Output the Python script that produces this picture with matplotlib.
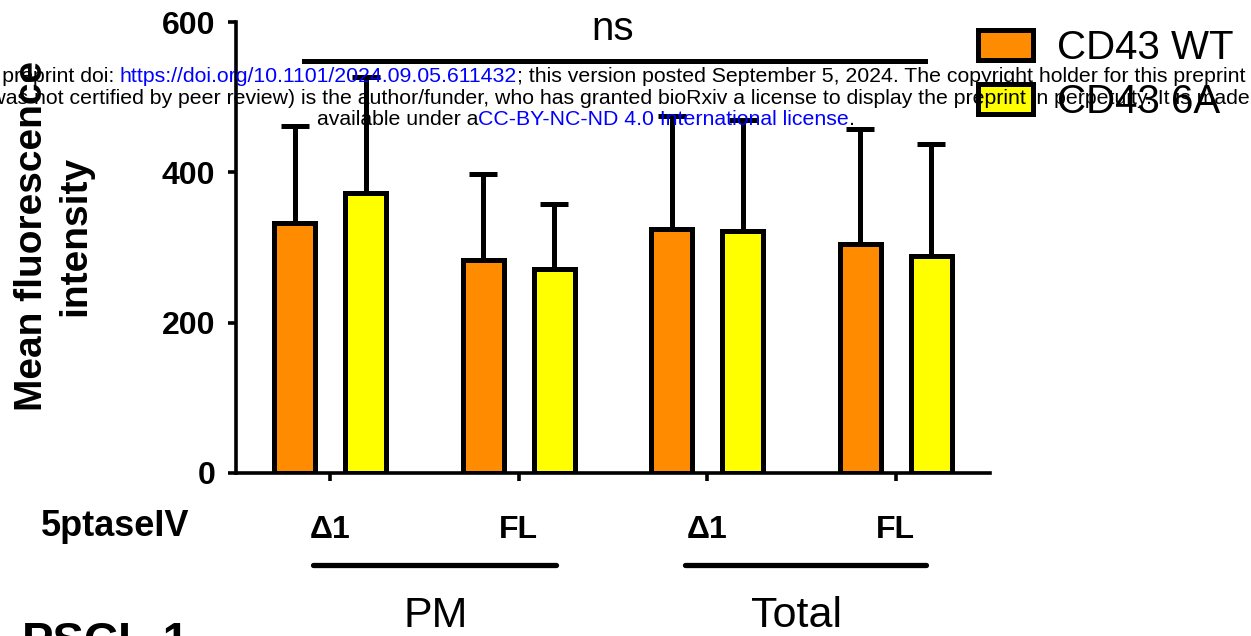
import numpy as np
import matplotlib.pyplot as plt
from matplotlib.patches import Patch

plt.rcParams['font.family'] = ['Liberation Sans', 'DejaVu Sans']

# donnees
groupes = ['Δ1', 'FL', 'Δ1', 'FL']
compartiments = ['PM', 'Total']
wt = [332, 283, 324, 305]
wt_err = [130, 115, 151, 152]
mut = [372, 272, 322, 289]
mut_err = [155, 86, 147, 149]
series = ['CD43 WT', 'CD43 6A']
couleurs = ['#FF8C00', '#FFFF00']

W, H = 1251, 636
fig = plt.figure(figsize=(W / 100, H / 100), dpi=100)
ax = fig.add_axes([236 / W, 1 - 473 / H, (990 - 236) / W, (473 - 22) / H])

x = np.arange(len(groupes))
d = 0.188
larg = 0.217
lw = 3.6
for k, (vals, errs) in enumerate([(wt, wt_err), (mut, mut_err)]):
    xs = x + (2 * k - 1) * d
    ax.errorbar(xs, vals, yerr=[[0] * len(vals), errs], fmt='none', ecolor='k',
                elinewidth=lw, capsize=10, capthick=lw, zorder=1)
    ax.bar(xs, vals, larg, color=couleurs[k], edgecolor='k', linewidth=lw, zorder=2)

ax.set_xlim(-0.5, 3.5)
ax.set_ylim(0, 600)
ax.set_yticks([0, 200, 400, 600])
ax.set_xticks(x)
ax.set_xticklabels(groupes)
for s in ['top', 'right']:
    ax.spines[s].set_visible(False)
for s in ['left', 'bottom']:
    ax.spines[s].set_linewidth(2.6)
ax.tick_params(axis='y', length=6, width=2.6, pad=9, labelsize=23)
ax.tick_params(axis='x', length=6, width=2.6, pad=24, labelsize=23)
for t in ax.get_xticklabels() + ax.get_yticklabels():
    t.set_fontweight('bold')

# barre ns
ax.plot([-0.138, 3.153], [548, 548], color='k', lw=3.6, clip_on=False)
ax.text(1.5, 565, 'ns', ha='center', va='bottom', fontsize=29)

# lignes sous les groupes
tr = ax.get_xaxis_transform()
yl = (1 - 565 / H - (1 - 473 / H)) / ((473 - 22) / H)
for (a, b), nom, xt in zip([(-0.09, 1.196), (1.884, 3.159)], compartiments, [436, 797]):
    ax.plot([a, b], [yl, yl], transform=tr, color='k', lw=3.8,
            solid_capstyle='round', clip_on=False)
    fig.text(xt / W, 1 - 616 / H, nom, ha='center', va='center', fontsize=31)

fig.text(115 / W, 1 - 527 / H, '5ptaseIV', ha='center', va='center',
         fontsize=26, fontweight='bold')
fig.text(54 / W, 1 - 236 / H, 'Mean fluorescence\nintensity', rotation=90,
         ha='center', va='center', fontsize=28, fontweight='bold',
         multialignment='center', linespacing=1.25)
fig.text(22 / W, 1 - 655 / H, 'PSCL-1', ha='left', va='baseline',
         fontsize=34, fontweight='bold')

poignees = [Patch(facecolor=c, edgecolor='k', linewidth=lw) for c in couleurs]
fig.legend(poignees, series, loc='upper left', bbox_to_anchor=(978 / W, 1 - 29 / H),
           frameon=False, fontsize=29, handlelength=1.36, handleheight=0.78,
           handletextpad=0.6, labelspacing=0.4, borderpad=0, borderaxespad=0)

# filigrane bioRxiv
rend = fig.canvas.get_renderer()


def largeur(s, fs):
    t = fig.text(0, 0, s + '|', fontsize=fs)
    t2 = fig.text(0, 0, '|', fontsize=fs)
    w = t.get_window_extent(rend).width - t2.get_window_extent(rend).width
    t.remove()
    t2.remove()
    return w


def ligne(morceaux, xc, yb, fs):
    tout = ''.join(m for m, c in morceaux)
    x0 = xc - largeur(tout, fs) / 2
    pref = ''
    for m, c in morceaux:
        xp = x0 + largeur(pref, fs) if pref else x0
        fig.text(xp / W, 1 - yb / H, m, color=c, fontsize=fs, ha='left',
                 va='baseline', zorder=10)
        pref += m


bleu = '#0000FF'
l3 = [('available under a', 'k'), ('CC-BY-NC-ND 4.0 International license', bleu),
      ('.', 'k')]
fs = 10 * 538 / largeur(''.join(m for m, c in l3), 10)
xc = 586
ligne([('bioRxiv preprint doi: ', 'k'),
       ('https://doi.org/10.1101/2024.09.05.611432', bleu),
       ('; this version posted September 5, 2024. The copyright holder for this preprint', 'k')],
      xc, 82, fs)
ligne([('(which was not certified by peer review) is the author/funder, who has granted '
        'bioRxiv a license to display the preprint in perpetuity. It is made', 'k')],
      xc, 104, fs)
ligne(l3, xc, 125, fs)

fig.savefig('out.png', dpi=100)
